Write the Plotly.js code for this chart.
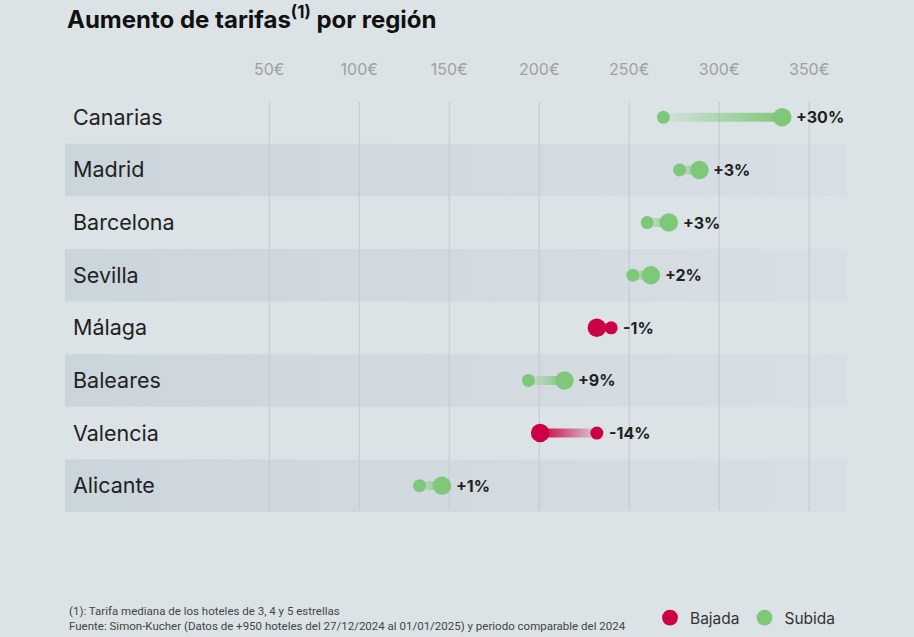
<!DOCTYPE html>
<html>
<head>
<meta charset="utf-8">
<script src="https://cdn.plot.ly/plotly-3.0.1.min.js"></script>
<style>
html,body{margin:0;padding:0;background:#dce3e7;}
#chart{width:914px;height:637px;}
</style>
</head>
<body>
<div id="chart"></div>
<script>
// ---- Data ----
const regions = ['Canarias','Madrid','Barcelona','Sevilla','Málaga','Baleares','Valencia','Alicante'];
const tarifa2024 = [269, 278, 260, 252, 240, 194, 232, 133.5];
const tarifa2025 = [335, 289, 272, 262, 232, 214, 200.5, 146];
const changeLabels = ['+30%','+3%','+3%','+2%','-1%','+9%','-14%','+1%'];
const tickValues = [50, 100, 150, 200, 250, 300, 350];
const tickLabels = ['50€', '100€', '150€', '200€', '250€', '300€', '350€'];
const legendNames = ['Bajada','Subida'];

// ---- Styling ----
const GREEN = '#7fc87a';
const RED = '#cc0044';
const BG = '#dce3e7';
const X_RANGE = [-63.5, 371];
const FONT = 'Inter, "Noto Sans", sans-serif';

const traces = [];

// alternating background bands (gradient, darker on the left)
regions.forEach((r, i) => {
  if (i % 2 === 1) {
    traces.push({
      type: 'scatter', mode: 'none', fill: 'toself', hoverinfo: 'skip', showlegend: false,
      x: [X_RANGE[0], X_RANGE[1], X_RANGE[1], X_RANGE[0]],
      y: [i - 0.5, i - 0.5, i + 0.5, i + 0.5],
      fillgradient: {type: 'horizontal', colorscale: [[0, '#cbd5dc'], [1, '#d8dfe4']]}
    });
  }
});

// vertical grid lines at the tick values
tickValues.forEach(v => {
  traces.push({
    type: 'scatter', mode: 'lines', hoverinfo: 'skip', showlegend: false,
    x: [v, v], y: [-0.29, 7.47],
    line: {color: '#c3c9cd', width: 1}
  });
});

// connecting gradient bars
const H = 0.085;
regions.forEach((r, i) => {
  const a = tarifa2024[i], b = tarifa2025[i];
  const lo = Math.min(a, b), hi = Math.max(a, b);
  const up = b >= a;
  const scale = up
    ? [[0, 'rgba(127,200,122,0.08)'], [1, 'rgba(127,200,122,1)']]
    : [[0, 'rgba(204,0,68,1)'], [1, 'rgba(204,0,68,0.1)']];
  traces.push({
    type: 'scatter', mode: 'none', fill: 'toself', hoverinfo: 'skip', showlegend: false,
    x: [lo, hi, hi, lo], y: [i - H, i - H, i + H, i + H],
    fillgradient: {type: 'horizontal', colorscale: scale}
  });
});

// dots: grouped by direction (legend)
function dotTrace(name, color, filterUp) {
  const x = [], y = [], s = [];
  regions.forEach((r, i) => {
    const up = tarifa2025[i] >= tarifa2024[i];
    if (up === filterUp) {
      x.push(tarifa2024[i]); y.push(i); s.push(13);
      x.push(tarifa2025[i]); y.push(i); s.push(18.5);
    }
  });
  return {
    type: 'scatter', mode: 'markers', name: name, x: x, y: y, hoverinfo: 'skip',
    marker: {color: color, size: s, opacity: 1, line: {width: 0}}
  };
}
traces.push(dotTrace(legendNames[0], RED, false));
traces.push(dotTrace(legendNames[1], GREEN, true));

// percentage labels
const annotations = regions.map((r, i) => {
  const bigRight = tarifa2025[i] >= tarifa2024[i];
  return {
    x: Math.max(tarifa2024[i], tarifa2025[i]), y: i, xref: 'x', yref: 'y',
    text: '<b>' + changeLabels[i] + '</b>', showarrow: false,
    xanchor: 'left', yanchor: 'middle', xshift: bigRight ? 12 : 10,
    font: {family: FONT, size: 16, color: '#222'}
  };
});

annotations.push({
  xref: 'paper', yref: 'paper', x: 0.0026, y: -0.2518, xanchor: 'left', yanchor: 'middle',
  align: 'left', showarrow: false,
  text: '(1): Tarifa mediana de los hoteles de 3, 4 y 5 estrellas<br>Fuente: Simon-Kucher (Datos de +950 hoteles del 27/12/2024 al 01/01/2025) y periodo comparable del 2024',
  font: {family: '"Liberation Sans Narrow", Roboto, sans-serif', size: 11.5, color: '#444'}
});

const layout = {
  width: 914, height: 637,
  paper_bgcolor: BG, plot_bgcolor: BG,
  margin: {l: 65, r: 67, t: 91, b: 125, autoexpand: false},
  font: {family: FONT, color: '#222'},
  title: {
    text: '<b>Aumento de tarifas<sup>(1)</sup> por región</b>',
    x: 67 / 914, xref: 'container', xanchor: 'left',
    y: 1 - 20 / 637, yref: 'container', yanchor: 'middle',
    font: {family: FONT, size: 24, color: '#111'}
  },
  xaxis: {
    side: 'top', range: X_RANGE, tickvals: tickValues, ticktext: tickLabels,
    showgrid: false, zeroline: false, showline: false, ticks: '',
    ticklabelstandoff: 12,
    tickfont: {family: FONT, size: 16, color: '#a0a0a0'}, fixedrange: true
  },
  yaxis: {
    range: [7.5, -0.5], tickvals: regions.map((r, i) => i), ticktext: regions,
    showgrid: false, zeroline: false, showline: false, ticks: '',
    ticklabelposition: 'inside', ticklabelstandoff: 5,
    tickfont: {family: FONT, size: 21.5, color: '#222'}, fixedrange: true
  },
  showlegend: true,
  legend: {
    orientation: 'h', xref: 'container', yref: 'container',
    x: 650 / 914, xanchor: 'left', y: 1 - 618 / 637, yanchor: 'middle',
    bgcolor: 'rgba(0,0,0,0)', font: {family: FONT, size: 15.5, color: '#333'},
    itemclick: false, itemdoubleclick: false, traceorder: 'normal'
  },
  annotations: annotations
};

Plotly.newPlot('chart', traces, layout, {displayModeBar: false, staticPlot: true});
</script>
</body>
</html>
